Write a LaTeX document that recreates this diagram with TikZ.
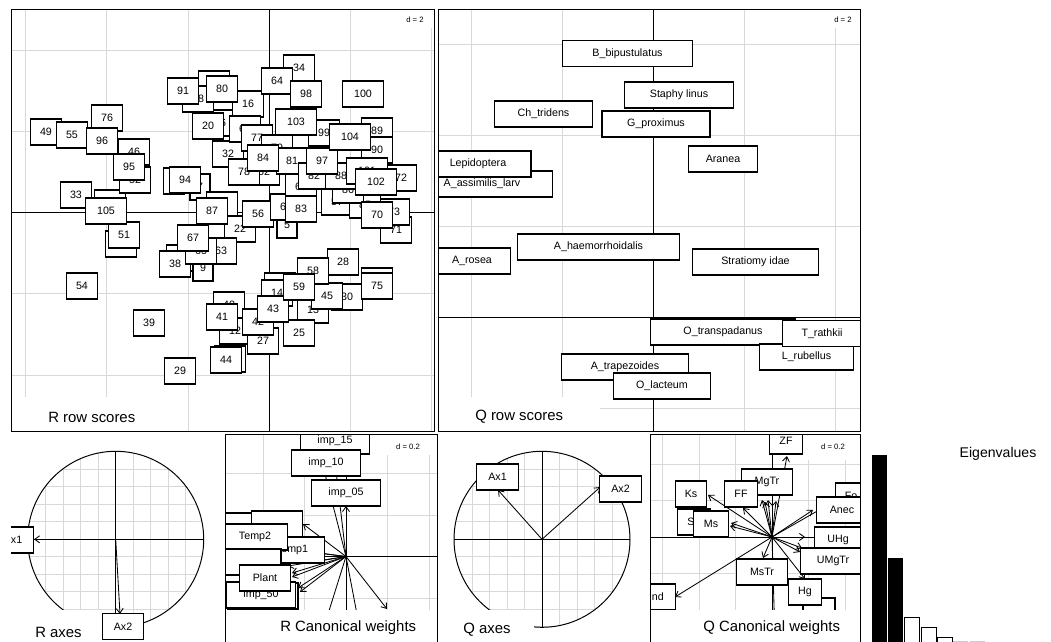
\documentclass[tikz,border=0pt]{standalone}
\usepackage{fontspec}
\setmainfont{Liberation Sans}
\usetikzlibrary{arrows.meta}
\newcommand\lbx[1]{\makebox[1.7\width]{#1}}

\begin{document}
\begin{tikzpicture}[x=0.025cm,y=-0.025cm,
	grd/.style={black!15,line width=0.7pt},
	fin/.style={black!15,line width=0.5pt},
	frm/.style={line width=0.7pt},
	axl/.style={line width=0.7pt},
	lab/.style={draw,fill=white,line width=0.8pt,inner xsep=0.125cm,inner ysep=0pt,
		minimum height=0.65cm,font=\fontsize{7.6}{9}\selectfont},
	ttl/.style={inner sep=0pt,anchor=west,font=\fontsize{10.6}{12}\selectfont},
	dlab/.style={inner sep=0pt,font=\fontsize{5.5}{6}\selectfont},
	wbox/.style={fill=white,draw=none},
	arr/.style={-{Straight Barb[length=3.5pt,width=5pt]},line width=0.6pt}]
	\useasboundingbox (0,0) rectangle (1051,642);

	% R row scores
	\begin{scope}
		\clip (11,9) rectangle (434,431);
		\foreach \k in {-3,...,2} \draw[grd] (269.3+81.2*\k,9) -- ++(0,422);
		\foreach \k in {-2,...,2} \draw[grd] (11,212.7+81.2*\k) -- ++(423,0);
		\fill[wbox] (11,397) rectangle (180,431);
		\fill[wbox] (395,9) rectangle (434,28);
		\node[dlab] (rd) at (415,20) {d = 2};
		\draw[axl] (269.3,9) -- (269.3,431);
		\draw[axl] (11,212.7) -- (434,212.7);
		% boxes whose numbers are fully covered
		\foreach \x/\y/\w/\n in {174/181/0.525/3, 280/286/0.775/10, 214/84/0.775/11,
			230/359/0.775/15, 110/203/0.775/19, 182/258/0.775/24, 121/244/0.775/50,
			377/281/0.775/74}
			\node[lab,minimum width=\w cm] (r\n) at (\x,\y) {};
		\foreach \x/\y/\t in {287/225/5, 223/123/6, 200/187/7, 203/268/9,
			235/331/12, 313/310/13, 277/293/14, 248/104/16, 198/99/18,
			208/126/20, 222/205/21, 240/229/22, 299/333/25, 263/341/27,
			343/262/28, 180/371/29, 347/297/30, 228/154/32, 76/195/33, 299/68/34, 175/264/38,
			149/323/39, 229/305/40, 222/317/41, 258/322/42, 273/309/43, 226/360/44, 327/296/45,
			134/152/46, 46/132/49, 124/235/51, 135/180/52, 82/286/54, 72/135/55,
			258/214/56, 337/202/57, 313/271/58, 299/287/59, 245/129/60, 286/207/61, 264/172/62,
			221/251/63, 277/81/64, 201/251/65, 193/238/67, 301/187/69, 396/230/71, 401/178/72,
			394/212/73, 377/286/75, 107/118/76, 257/138/77, 244/172/78, 277/148/79,
			222/89/80, 292/161/81, 314/176/82, 301/209/83, 263/158/84, 365/205/85, 348/190/86,
			377/215/70, 212/211/87, 341/176/88, 377/131/89, 377/150/90, 183/91/91, 185/180/94,
			129/167/95, 102/141/96, 322/161/97, 306/94/98, 324/133/99, 363/94/100, 367/171/101,
			376/182/102, 296/122/103, 350/137/104, 106/211/105}
			\node[lab] (r\t) at (\x,\y) {\lbx{\t}};
		\node[ttl] (rtitle) at (48,417) {R row scores};
	\end{scope}
	\draw[frm] (11,9) rectangle (434,431);

	% Q row scores
	\begin{scope}
		\clip (438,9) rectangle (860,431);
		\foreach \k in {-2,...,2} \draw[grd] (653+91*\k,9) -- ++(0,422);
		\foreach \k in {-3,...,1} \draw[grd] (438,317.5+91*\k) -- ++(422,0);
		\fill[wbox] (438,397) rectangle (600,431);
		\fill[wbox] (815,9) rectangle (860,28);
		\node[dlab] (qd) at (843,20) {d = 2};
		\draw[axl] (653,9) -- (653,431);
		\draw[axl] (438,317.5) -- (860,317.5);
		\node[lab] (qass) at (482,184) {\lbx{A\_assimilis\_larv}};
		\node[lab] (qlep) at (478,164) {\lbx{Lepidoptera}};
		\node[lab] (qcht) at (543.5,114) {\lbx{Ch\_tridens}};
		\node[lab] (qbbi) at (627.5,53.5) {\lbx{B\_bipustulatus}};
		\node[lab] (qsta) at (679,95) {\lbx{Staphy linus}};
		\node[lab] (qgpr) at (656,124) {\lbx{G\_proximus}};
		\node[lab] (qara) at (723,159) {\lbx{Aranea}};
		\node[lab] (qaro) at (472,261) {\lbx{A\_rosea}};
		\node[lab] (qaha) at (598.5,247) {\lbx{A\_haemorrhoidalis}};
		\node[lab] (qstr) at (755.5,262) {\lbx{Stratiomy idae}};
		\node[lab] (qotr) at (723,332) {\lbx{O\_transpadanus}};
		\node[lab] (qlru) at (806.5,357) {\lbx{L\_rubellus}};
		\node[lab] (qtra) at (822,333.5) {\lbx{T\_rathkii}};
		\node[lab] (qatr) at (625,367) {\lbx{A\_trapezoides}};
		\node[lab] (qola) at (662,386) {\lbx{O\_lacteum}};
		\node[ttl] (qtitle) at (475,417) {Q row scores};
	\end{scope}
	\draw[frm] (438,9) rectangle (860,431);

	% R axes
	\begin{scope}
		\clip (11,433) rectangle (222,642);
		\coordinate (ra) at (115.7,539.3);
		\begin{scope}
			\clip (ra) circle (88);
			\foreach \k in {-5,...,5} {
				\draw[fin] (115.7+17.5*\k,449) -- ++(0,182);
				\draw[fin] (25,539.3+17.5*\k) -- ++(182,0);
			}
		\end{scope}
		\draw[frm] (ra) circle (88);
		\draw[axl] (27.7,539.3) -- (203.7,539.3);
		\draw[axl] (115.7,451.3) -- (115.7,627.3);
		\coordinate (rt1) at (34,539.3);
		\coordinate (rt2) at (120,614);
		\draw[arr] (ra) -- (rt1);
		\draw[arr] (ra) -- (rt2);
		\fill[wbox] (11,610) rectangle (103,642);
		\node[ttl] (ratitle) at (35,632) {R axes};
		\node[lab] (rax1) at (13,540) {\lbx{Ax1}};
		\node[lab] (rax2) at (123,626.5) {\lbx{Ax2}};
	\end{scope}

	% Q axes
	\begin{scope}
		\clip (436,433) rectangle (648,642);
		\coordinate (qa) at (542,539.3);
		\begin{scope}
			\clip (qa) circle (88);
			\foreach \k in {-5,...,5} {
				\draw[fin] (542+17.5*\k,449) -- ++(0,182);
				\draw[fin] (452,539.3+17.5*\k) -- ++(182,0);
			}
		\end{scope}
		\draw[frm] (qa) circle (88);
		\draw[axl] (454,539.3) -- (630,539.3);
		\draw[axl] (542,451.3) -- (542,627.3);
		\coordinate (qt1) at (498,490);
		\coordinate (qt2) at (600.3,487);
		\draw[arr] (qa) -- (qt1);
		\draw[arr] (qa) -- (qt2);
		\fill[wbox] (436,610) rectangle (534,642);
		\node[ttl] (qatitle) at (463,630) {Q axes};
		\node[lab] (qax1) at (497.5,477) {\lbx{Ax1}};
		\node[lab] (qax2) at (620.5,489) {\lbx{Ax2}};
	\end{scope}

	% R canonical weights
	\begin{scope}
		\clip (225,434) rectangle (437,642);
		\foreach \k in {-3,...,2} {
			\draw[grd] (346+41.5*\k,434) -- ++(0,208);
			\draw[grd] (225,556.5+41.5*\k) -- ++(212,0);
		}
		\draw[axl] (346,434) -- (346,642);
		\draw[axl] (225,556.5) -- (437,556.5);
		\coordinate (rc) at (346,556.5);
		\foreach \x/\y [count=\i] in {346/506, 323/466, 333/445, 303/524, 318/553, 318/561,
			288/549, 288/566, 292/573, 292/577, 298/588, 300/592, 323/630, 346/640, 360/630, 387/609}
			{\coordinate (rw\i) at (\x,\y); \draw[arr] (rc) -- (rw\i);}
		\node[lab] (rimp15) at (335,441) {\lbx{imp\_15}};
		\node[lab] (rimp10) at (326,463) {\lbx{imp\_10}};
		\node[lab] (rimp05) at (346,493) {\lbx{imp\_05}};
		\node[lab,minimum width=1.6cm] (rhid1) at (256,526) {};
		\node[lab,minimum width=1.275cm] (rhid2) at (277,524) {};
		\node[lab] (rtemp1) at (292,550) {\lbx{Temp1}};
		\node[lab] (rtemp2) at (255,537) {\lbx{Temp2}};
		\node[lab,minimum width=1.55cm] (rhid3) at (250,562) {};
		\node[lab,minimum width=1.75cm] (rhid4) at (263,596) {};
		\node[lab] (rimp50) at (261,595) {\lbx{imp\_50}};
		\node[lab] (rplant) at (265,578) {\lbx{Plant}};
		\fill[wbox] (225,610) rectangle (437,642);
		\node[ttl] (rctitle) at (280,628) {R Canonical weights};
		\fill[wbox] (385,434) rectangle (437,455);
		\node[dlab] (rcd) at (408,447) {d = 0.2};
	\end{scope}
	\draw[frm] (225,434) rectangle (437,642);

	% Q canonical weights
	\begin{scope}
		\clip (650,434) rectangle (860,642);
		\foreach \k in {-3,...,2} {
			\draw[grd] (772+36.5*\k,434) -- ++(0,208);
			\draw[grd] (650,537+36.5*\k) -- ++(210,0);
		}
		\draw[axl] (772,434) -- (772,642);
		\draw[axl] (650,537) -- (860,537);
		\coordinate (qc) at (772,537);
		\foreach \x/\y [count=\i] in {787/456, 708/495, 730/526, 731/523, 743/508, 762/500,
			765/502, 768/500, 776/501, 840/498, 813/510, 805/537, 802/548, 800/552, 805/579,
			763/558, 675/597, 772/640, 775/640}
			{\coordinate (qw\i) at (\x,\y); \draw[arr] (qc) -- (qw\i);}
		\node[lab] (qks) at (691,494) {\lbx{Ks}};
		\node[lab] (qsb) at (694,522) {\lbx{Sb}};
		\node[lab] (qms) at (711,524) {\lbx{Ms}};
		\node[lab] (qmgtr) at (767,482) {\lbx{MgTr}};
		\node[lab] (qff) at (741,494) {\lbx{FF}};
		\node[lab] (qzf) at (786,441) {\lbx{ZF}};
		\node[lab] (qfo) at (851,496) {\lbx{Fo}};
		\node[lab] (qanec) at (842,510) {\lbx{Anec}};
		\node[lab] (quhg) at (838,540) {\lbx{UHg}};
		\node[lab] (qumgtr) at (833,561) {\lbx{UMgTr}};
		\node[lab] (qmstr) at (762,572) {\lbx{MsTr}};
		\node[lab,minimum width=0.8cm] (qhid1) at (819,611) {};
		\node[lab] (qhg) at (805,592) {\lbx{Hg}};
		\node[lab] (qund) at (654,597) {\lbx{Und}};
		\fill[wbox] (650,610) rectangle (860,642);
		\node[ttl] (qctitle) at (703,628) {Q Canonical weights};
		\fill[wbox] (805,434) rectangle (860,460);
		\node[dlab] (qcd) at (833,447) {d = 0.2};
	\end{scope}
	\draw[frm] (650,434) rectangle (860,642);

	% Eigenvalues
	\fill (872,455) rectangle (887,644);
	\fill (888,558) rectangle (903,644);
	\draw[fill=white,line width=0.7pt] (904,617) rectangle (919,644);
	\draw[fill=white,line width=0.7pt] (921,627) rectangle (936,644);
	\draw[fill=white,line width=0.7pt] (937,637) rectangle (952,644);
	\draw[black!20,line width=0.7pt] (953,641) rectangle (967,644);
	\draw[black!20,line width=0.7pt] (970,641) rectangle (984,644);
	\node[inner sep=0pt,font=\fontsize{10}{12}\selectfont] (eig) at (998,454) {Eigenvalues};
\end{tikzpicture}
\end{document}
